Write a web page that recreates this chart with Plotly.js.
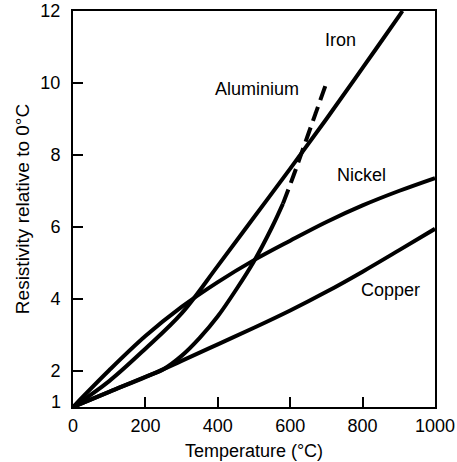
<!DOCTYPE html>
<html>
<head>
<meta charset="utf-8">
<script src="https://cdn.plot.ly/plotly-3.0.1.min.js"></script>
<style>html,body{margin:0;padding:0;background:#fff;}#chart{width:457px;height:462px;}</style>
</head>
<body>
<div id="chart"></div>
<script>
// Temperature (°C) grids and resistivity relative to 0 °C for each material
const copperT = [0, 100, 200, 300, 400, 500, 600, 700, 800, 900, 1000];
const copperR = [1, 1.42, 1.83, 2.28, 2.74, 3.2, 3.68, 4.2, 4.76, 5.35, 5.95];

const nickelT = [0, 100, 200, 300, 400, 500, 600, 700, 800, 900, 1000];
const nickelR = [1, 2.02, 2.97, 3.78, 4.47, 5.08, 5.62, 6.14, 6.6, 7.0, 7.36];

const ironT = [0, 100, 200, 300, 400, 500, 600, 700, 800, 900, 910];
const ironR = [1, 1.72, 2.62, 3.6, 4.92, 6.27, 7.62, 9.0, 10.42, 11.85, 12.0];

const aluSolidT = [0, 100, 200, 250, 300, 350, 400, 450, 500, 550, 580];
const aluSolidR = [1, 1.42, 1.84, 2.05, 2.42, 2.92, 3.52, 4.25, 5.05, 6.0, 6.65];
const aluDashT = [580, 610, 640, 670, 700];
const aluDashR = [6.65, 7.45, 8.3, 9.15, 10.0];

const xTicks = [0, 200, 400, 600, 800, 1000];
const yTicks = [1, 2, 4, 6, 8, 10, 12];

const labels = [
  {text: "Iron", x: 740, y: 11.2},
  {text: "Aluminium", x: 508, y: 9.83},
  {text: "Nickel", x: 796, y: 7.44},
  {text: "Copper", x: 878, y: 4.25}
];

const FONT = "Liberation Sans, Arial, Helvetica, sans-serif";
const lineStyle = {color: "#000", width: 4, shape: "spline", smoothing: 1};

const traces = [
  {x: copperT, y: copperR, mode: "lines", line: lineStyle, name: "Copper"},
  {x: nickelT, y: nickelR, mode: "lines", line: lineStyle, name: "Nickel"},
  {x: ironT, y: ironR, mode: "lines", line: lineStyle, name: "Iron"},
  {x: aluSolidT, y: aluSolidR, mode: "lines", line: lineStyle, name: "Aluminium"},
  {x: aluDashT, y: aluDashR, mode: "lines", line: Object.assign({}, lineStyle, {dash: "15px,7px"}), name: "Aluminium (dashed)"}
];

const annotations = labels.map(l => ({
  text: l.text, x: l.x, y: l.y, xref: "x", yref: "y",
  showarrow: false, font: {family: FONT, size: 18, color: "#000"}
}));
// lowest y tick label sits just above the x axis line, as in the reference
annotations.push({
  text: String(yTicks[0]), x: 0, y: yTicks[0], xref: "paper", yref: "y",
  xanchor: "right", yanchor: "middle", xshift: -10, yshift: 5,
  showarrow: false, font: {family: FONT, size: 18, color: "#000"}
});

const layout = {
  width: 457, height: 462,
  margin: {l: 73, r: 22, t: 11, b: 55},
  paper_bgcolor: "#fff", plot_bgcolor: "#fff",
  showlegend: false,
  font: {family: FONT, size: 18, color: "#000"},
  xaxis: {
    range: [0, 1000], tickvals: xTicks, ticktext: xTicks.map(String),
    ticks: "inside", ticklen: 10, tickwidth: 2, tickcolor: "#000",
    showline: true, linewidth: 2, linecolor: "#000", mirror: true,
    showgrid: false, zeroline: false, ticklabelstandoff: 1,
    tickfont: {family: FONT, size: 18, color: "#000"},
    title: {text: "Temperature (°C)", font: {family: FONT, size: 18, color: "#000"}, standoff: 10}
  },
  yaxis: {
    range: [1, 12], tickvals: yTicks, ticktext: yTicks.map((v, i) => i === 0 ? "" : String(v)),
    ticks: "inside", ticklen: 10, tickwidth: 2, tickcolor: "#000",
    showline: true, linewidth: 2, linecolor: "#000", mirror: true,
    showgrid: false, zeroline: false, ticklabelstandoff: 7,
    tickfont: {family: FONT, size: 18, color: "#000"},
    title: {text: "Resistivity relative to 0°C", font: {family: FONT, size: 19, color: "#000"}, standoff: 6}
  },
  annotations: annotations
};

Plotly.newPlot("chart", traces, layout, {staticPlot: true, displayModeBar: false});
</script>
</body>
</html>
